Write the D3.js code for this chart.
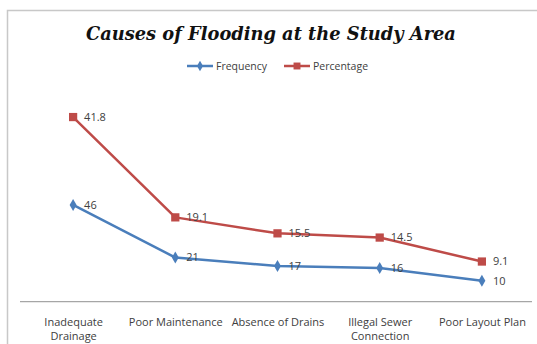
<!DOCTYPE html>
<html>
<head>
<meta charset="utf-8">
<script src="https://cdn.jsdelivr.net/npm/d3@7"></script>
<style>
  html, body { margin: 0; padding: 0; background: #fff; }
  svg { display: block; }
</style>
</head>
<body>
<svg id="chart" width="537" height="344"></svg>
<script>
// Causes of flooding: frequency and percentage, drawn as stacked lines
const categories = [
  "Inadequate Drainage",
  "Poor Maintenance",
  "Absence of Drains",
  "Illegal Sewer Connection",
  "Poor Layout Plan"
];
const categoryLines = [
  ["Inadequate", "Drainage"],
  ["Poor Maintenance"],
  ["Absence of Drains"],
  ["Illegal Sewer", "Connection"],
  ["Poor Layout Plan"]
];
const frequency = [46, 21, 17, 16, 10];
const percentage = [41.8, 19.1, 15.5, 14.5, 9.1];
const seriesNames = ["Frequency", "Percentage"];
const yDomain = [0, 100];

const colors = { Frequency: "#4A7EBB", Percentage: "#BE4B48" };
const labelFont = "'Open Sans', 'DejaVu Sans', sans-serif";

const svg = d3.select("#chart");
const W = 537, H = 344;

// Outer chart frame
svg.append("rect")
  .attr("x", 7.5).attr("y", 10.5)
  .attr("width", W).attr("height", H)
  .attr("fill", "#fff")
  .attr("stroke", "#c8c8c8")
  .attr("stroke-width", 1.5);

// Title
const title = svg.append("text")
  .attr("x", 271).attr("y", 40)
  .attr("text-anchor", "middle")
  .attr("font-family", "'DejaVu Serif', 'Liberation Serif', serif")
  .attr("font-weight", "bold")
  .attr("font-style", "italic")
  .attr("font-size", 20)
  .attr("fill", "#111")
  .text("Causes of Flooding at the Study Area");
const tw = title.node().getComputedTextLength();
title.attr("font-size", 20 * 370 / tw);

// Scales
const plot = { left: 22, right: 533, top: 91.4, bottom: 301.7 };
const x = d3.scalePoint().domain(categories).range([plot.left, plot.right]).padding(0.5);
const y = d3.scaleLinear().domain(yDomain).range([plot.bottom, plot.top]);

// Stack percentage on top of frequency
const rows = categories.map((c, i) => ({ cat: c, Frequency: frequency[i], Percentage: percentage[i] }));
const stacked = d3.stack().keys(seriesNames)(rows);

// Category axis
const axis = svg.append("g")
  .attr("transform", `translate(0,${plot.bottom})`)
  .call(d3.axisBottom(x).tickSize(0).tickFormat(() => ""));
axis.select(".domain")
  .attr("d", `M20,0H532`)
  .attr("stroke", "#a6a6a6")
  .attr("stroke-width", 1.2);
axis.selectAll(".tick").each(function (d, i) {
  const t = d3.select(this).select("text")
    .attr("y", 0).attr("dy", null)
    .attr("font-family", labelFont)
    .attr("font-size", 11)
    .attr("fill", "#404040");
  categoryLines[i].forEach((ln, k) => {
    t.append("tspan").attr("x", 0).attr("y", 24 + k * 14.5).text(ln);
  });
});

// Lines, markers and labels
const line = d3.line().x(d => x(d.data.cat)).y(d => y(d[1]));

stacked.forEach(s => {
  const name = s.key;
  const col = colors[name];
  svg.append("path")
    .datum(s)
    .attr("d", line)
    .attr("fill", "none")
    .attr("stroke", col)
    .attr("stroke-width", 2.5)
    .attr("stroke-linejoin", "round");

  const sym = name === "Frequency"
    ? d3.symbol().type(d3.symbolDiamond).size(42)
    : d3.symbol().type(d3.symbolSquare).size(68);

  svg.selectAll(null).data(s).enter().append("path")
    .attr("d", sym)
    .attr("transform", d => `translate(${x(d.data.cat)},${y(d[1])})`)
    .attr("fill", col);

  svg.selectAll(null).data(s).enter().append("text")
    .attr("x", d => x(d.data.cat) + 11)
    .attr("y", d => y(d[1]))
    .attr("dy", "0.35em")
    .attr("font-family", labelFont)
    .attr("font-size", 11)
    .attr("fill", "#404040")
    .text(d => d.data[name]);
});

// Legend
const legend = svg.append("g");
const legendItems = [
  { name: "Frequency", x0: 187, sym: d3.symbol().type(d3.symbolDiamond).size(32) },
  { name: "Percentage", x0: 284, sym: d3.symbol().type(d3.symbolSquare).size(48) }
];
legendItems.forEach(it => {
  const g = legend.append("g").attr("transform", `translate(${it.x0},66)`);
  g.append("line").attr("x1", 0).attr("x2", 26).attr("y1", 0).attr("y2", 0)
    .attr("stroke", colors[it.name]).attr("stroke-width", 2.5);
  g.append("path").attr("d", it.sym).attr("transform", "translate(13,0)").attr("fill", colors[it.name]);
  g.append("text").attr("x", 29).attr("y", 0).attr("dy", "0.35em")
    .attr("font-family", labelFont).attr("font-size", 10.5).attr("fill", "#404040")
    .text(it.name);
});
</script>
</body>
</html>
